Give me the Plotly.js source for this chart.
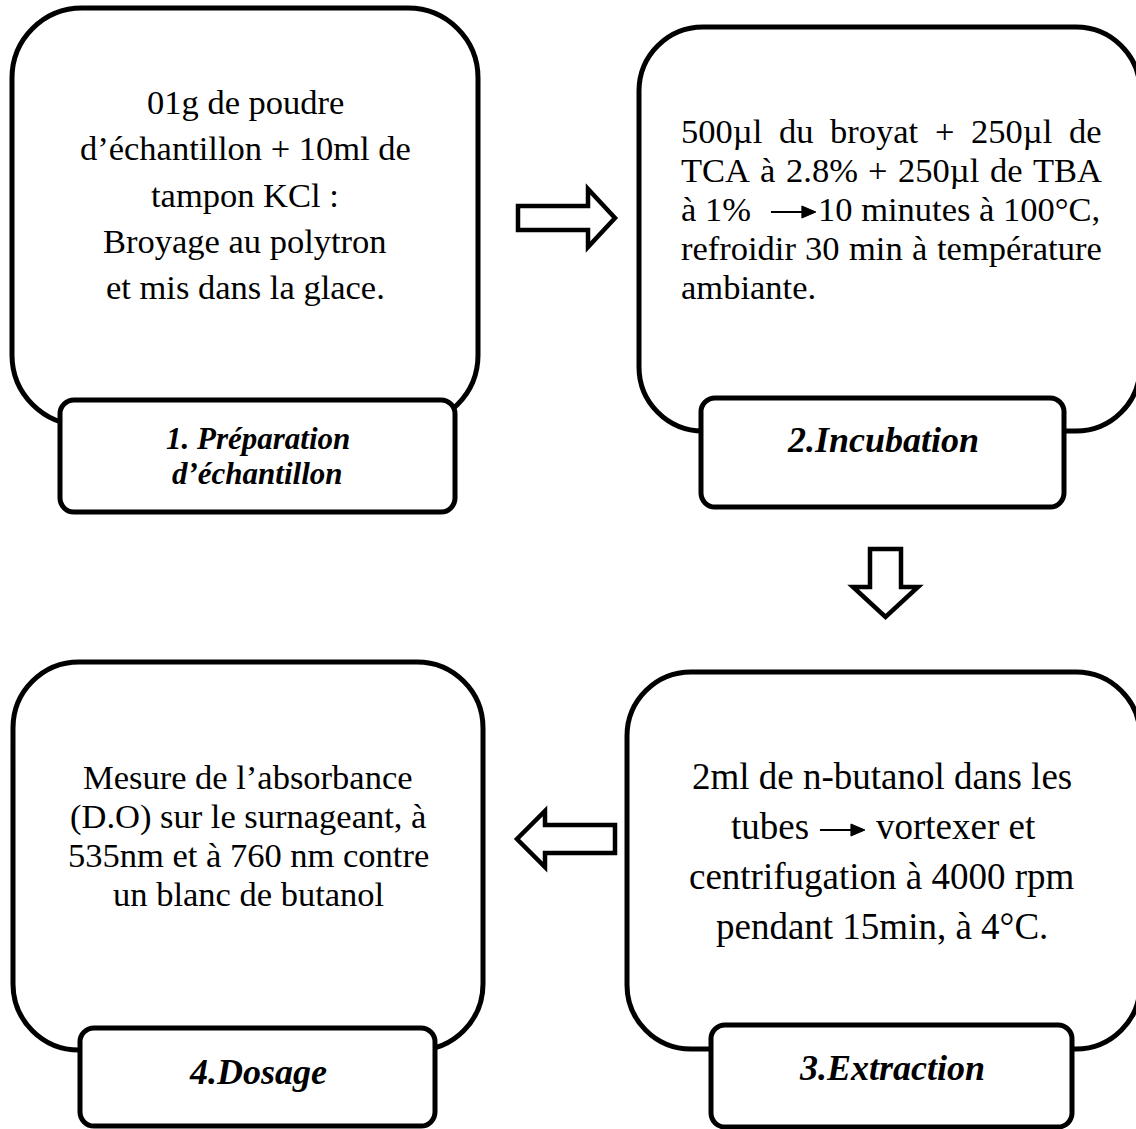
<!DOCTYPE html>
<html>
<head>
<meta charset="utf-8">
<script src="https://cdn.plot.ly/plotly-3.0.1.min.js"></script>
<style>
  html, body { margin: 0; padding: 0; background: #ffffff; }
  #chart { width: 1136px; height: 1129px; }
</style>
</head>
<body>
<div id="chart"></div>
<script>
// ---------- content (texts of the flow chart) ----------
const titleLines = [
  ["1. Préparation", "d’échantillon"],
  ["2.Incubation"],
  ["3.Extraction"],
  ["4.Dosage"]
];
const step1Lines = ["01g de poudre", "d’échantillon + 10ml de", "tampon KCl :", "Broyage au polytron", "et mis dans la glace."];
const step2Lines = ["500µl du broyat + 250µl de", "TCA à 2.8% + 250µl de TBA", ["à 1%", "10 minutes à 100°C,"], "refroidir 30 min à température", "ambiante."];
const step3Lines = ["2ml de n-butanol dans les", ["tubes", "vortexer et"], "centrifugation à 4000 rpm", "pendant 15min, à 4°C."];
const step4Lines = ["Mesure de l’absorbance", "(D.O) sur le surnageant, à", "535nm et à 760 nm contre", "un blanc de butanol"];

// ---------- layout geometry ----------
const W = 1136, H = 1129;
const FONT = "'Liberation Serif', 'Times New Roman', serif";
const BIG = [
  {x0: 12,  y0: 8,   x1: 478,  y1: 425,  r: 70},
  {x0: 639, y0: 27,  x1: 1140, y1: 431,  r: 64},
  {x0: 627, y0: 672, x1: 1140, y1: 1049, r: 64},
  {x0: 13,  y0: 662, x1: 483,  y1: 1050, r: 66}
];
const LAB = [
  {x0: 60,  y0: 400,  x1: 455,  y1: 512,  r: 14, size: 31, lineY: [438, 473]},
  {x0: 701, y0: 398,  x1: 1064, y1: 507,  r: 14, size: 36, lineY: [440]},
  {x0: 711, y0: 1025, x1: 1072, y1: 1127, r: 14, size: 36, lineY: [1068]},
  {x0: 80,  y0: 1028, x1: 435,  y1: 1126, r: 14, size: 36, lineY: [1072]}
];

function rrect(b) {
  const {x0, y0, x1, y1, r} = b, k = 0.5523 * r;
  return `M${x0 + r},${y0} L${x1 - r},${y0} C${x1 - r + k},${y0} ${x1},${y0 + r - k} ${x1},${y0 + r} ` +
         `L${x1},${y1 - r} C${x1},${y1 - r + k} ${x1 - r + k},${y1} ${x1 - r},${y1} ` +
         `L${x0 + r},${y1} C${x0 + r - k},${y1} ${x0},${y1 - r + k} ${x0},${y1 - r} ` +
         `L${x0},${y0 + r} C${x0},${y0 + r - k} ${x0 + r - k},${y0} ${x0 + r},${y0} Z`;
}

const shapes = [];
BIG.forEach((b, i) => {
  shapes.push({type: 'path', xref: 'x', yref: 'y', path: rrect(b),
    line: {color: '#000', width: 5}, fillcolor: '#ffffff', layer: 'above'});
  const l = LAB[i];
  shapes.push({type: 'path', xref: 'x', yref: 'y', path: rrect(l),
    line: {color: '#000', width: 5}, fillcolor: '#ffffff', layer: 'above'});
});

// block arrows between steps
const blockArrows = [
  "M518,206 L588,206 L588,189 L615,218 L588,247 L588,230 L518,230 Z",
  "M870,549 L901,549 L901,587 L918,587 L885.5,617 L853,587 L870,587 Z",
  "M615,825 L545,825 L545,811 L517,839 L545,867 L545,853 L615,853 Z"
];
blockArrows.forEach(p => shapes.push({type: 'path', xref: 'x', yref: 'y', path: p,
  line: {color: '#000', width: 4.5}, fillcolor: '#ffffff', layer: 'above'}));

// small inline arrows
function inlineArrow(xs, xe, y) {
  shapes.push({type: 'line', xref: 'x', yref: 'y', x0: xs, x1: xe - 10, y0: y, y1: y,
    line: {color: '#000', width: 2}, layer: 'above'});
  shapes.push({type: 'path', xref: 'x', yref: 'y',
    path: `M${xe - 14},${y - 6} L${xe},${y} L${xe - 14},${y + 6} Z`,
    line: {color: '#000', width: 1}, fillcolor: '#000', layer: 'above'});
}

// text measurement for justification
const ctx = document.createElement('canvas').getContext('2d');
function tw(s, size) { ctx.font = `${size}px 'Liberation Serif'`; return ctx.measureText(s).width; }

const annotations = [];
function txt(s, x, y, size, anchor, extra) {
  annotations.push(Object.assign({xref: 'x', yref: 'y', x: x, y: y, text: s, showarrow: false,
    xanchor: anchor || 'center', yanchor: 'middle', borderpad: 0,
    font: {family: FONT, size: size, color: '#000'}}, extra || {}));
}

// step 1 : centered
const S1 = 34.5, s1Y = [102, 148, 195, 241, 287];
step1Lines.forEach((s, i) => txt(s, 245, s1Y[i], S1));

// step 2 : justified
const S2 = 34.5, s2L = 680, s2R = 1101;
const s2Y = [131, 170, 209, 248, 287];
function justify(line, y, size, left, right) {
  const words = line.split(' ');
  const ws = words.map(w => tw(w, size));
  const total = ws.reduce((a, b) => a + b, 0);
  const gap = words.length > 1 ? (right - left - total) / (words.length - 1) : 0;
  let x = left;
  words.forEach((w, i) => { txt(w, x, y, size, 'left'); x += ws[i] + gap; });
}
step2Lines.forEach((s, i) => {
  if (Array.isArray(s)) {
    txt(s[0], s2L, s2Y[i], S2, 'left');
    const a0 = s2L + tw(s[0], S2) + 21;
    txt(s[1], s2R, s2Y[i], S2, 'right');
    const a1 = s2R - tw(s[1], S2) - 3;
    inlineArrow(a0, a1, s2Y[i] + 3);
  } else if (i < step2Lines.length - 1) {
    justify(s, s2Y[i], S2, s2L, s2R);
  } else {
    txt(s, s2L, s2Y[i], S2, 'left');
  }
});

// step 3 : centered
const S3 = 37, s3X = 882, s3Y = [776, 826, 876, 926];
step3Lines.forEach((s, i) => {
  if (Array.isArray(s)) {
    const w0 = tw(s[0], S3), w1 = tw(s[1], S3), aw = 45, g0 = 12, g1 = 10;
    const tot = w0 + g0 + aw + g1 + w1;
    const start = s3X - tot / 2;
    txt(s[0], start, s3Y[i], S3, 'left');
    inlineArrow(start + w0 + g0, start + w0 + g0 + aw, s3Y[i] + 4);
    txt(s[1], start + w0 + g0 + aw + g1, s3Y[i], S3, 'left');
  } else {
    txt(s, s3X, s3Y[i], S3);
  }
});

// step 4 : centered
const S4 = 34.5, s4Y = [777, 816, 855, 894];
step4Lines.forEach((s, i) => txt(s, 248, s4Y[i], S4));

// titles (bold italic)
titleLines.forEach((lines, i) => {
  const l = LAB[i];
  lines.forEach((s, j) => txt(`<b><i>${s}</i></b>`, (l.x0 + l.x1) / 2, l.lineY[j], l.size));
});

const layout = {
  width: W, height: H,
  margin: {l: 0, r: 0, t: 0, b: 0, pad: 0},
  paper_bgcolor: '#ffffff', plot_bgcolor: '#ffffff',
  xaxis: {range: [0, W], visible: false, fixedrange: true},
  yaxis: {range: [H, 0], visible: false, fixedrange: true},
  showlegend: false,
  shapes: shapes,
  annotations: annotations
};
const data = [{type: 'scatter', x: [0, W], y: [0, H], mode: 'markers',
  marker: {opacity: 0}, hoverinfo: 'skip', showlegend: false}];
Plotly.newPlot('chart', data, layout, {staticPlot: true, displayModeBar: false});
</script>
</body>
</html>
